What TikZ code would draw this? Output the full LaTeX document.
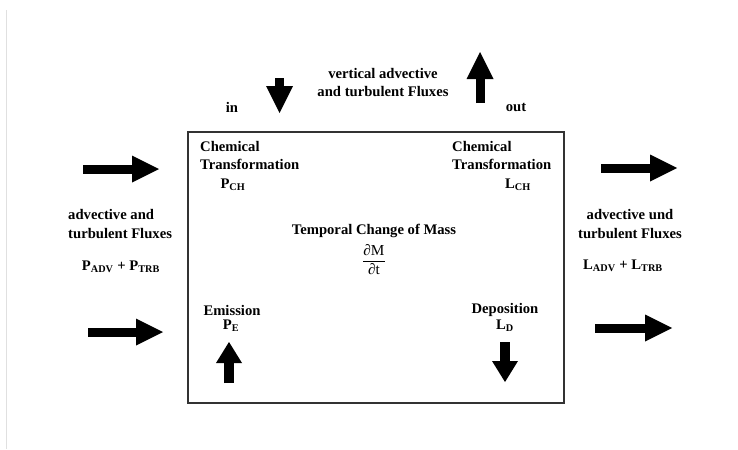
\documentclass[tikz,border=0pt]{standalone}
\usepackage{fontspec}
\setmainfont{Liberation Serif}
\usepackage{amsmath}
\usetikzlibrary{arrows.meta, positioning}

\begin{document}
\begin{tikzpicture}[x=0.03cm, y=-0.03cm, node distance=0.3cm,
    every node/.style={font=\fontsize{12.5}{16}\selectfont\bfseries, inner sep=0pt}]
    % Styles
    \tikzstyle{txt} = [align=left, anchor=west]
    \tikzstyle{fluxarrow} = [line width=0.27cm, -{Triangle[length=0.81cm, width=0.81cm, line width=0pt]}]
    \tikzstyle{srcarrow} = [line width=0.3cm, -{Triangle[length=0.63cm, width=0.78cm, line width=0pt]}]

    \useasboundingbox (0,0) rectangle (738,449);
    \draw [black!12, line width=0.6pt] (6,10) -- (6,449);

    % --- CONTROL VOLUME ---
    \node [draw=black!80, line width=1.2pt, minimum width=11.28cm, minimum height=8.13cm] (box) at (376,267.5) {};

    % --- TOP: VERTICAL FLUXES ---
    \node [align=center] (vert) at (383,82.5) {vertical advective\\and turbulent Fluxes};
    \node (in) at (232,107) {in};
    \node (out) at (516,107) {out};
    \coordinate (inTop) at (279.5,78);
    \coordinate (inTip) at (279.5,113);
    \coordinate (outBot) at (480,103);
    \coordinate (outTip) at (480,52);

    % --- INSIDE THE BOX ---
    \node [txt] (chemL) at (200,155.5) {Chemical\\Transformation};
    \node (pch) at (233,185) {P\textsubscript{CH}};
    \node [txt] (chemR) at (452,155.5) {Chemical\\Transformation};
    \node (lch) at (518,185) {L\textsubscript{CH}};
    \node (mass) at (374,231) {Temporal Change of Mass};
    \node [below=0.18cm of mass] (dmdt) {\(\dfrac{\text{\mdseries\fontsize{13}{16}\selectfont ∂M}}{\text{\mdseries\fontsize{13}{16}\selectfont ∂t}}\)};
    \node (emis) at (232,310) {Emission};
    \node (pe) at (231,326) {P\textsubscript{E}};
    \node (depo) at (505,310) {Deposition};
    \node (ld) at (505,326) {L\textsubscript{D}};
    \coordinate (emBot) at (229,383);
    \coordinate (emTip) at (229,342);
    \coordinate (deTop) at (505,342);
    \coordinate (deTip) at (505,382);

    % --- SIDES: HORIZONTAL FLUXES ---
    \node [txt] (advL) at (68,224) {advective and\\turbulent Fluxes};
    \node (padv) at (121,267) {P\textsubscript{ADV} + P\textsubscript{TRB}};
    \node [align=center] (advR) at (630,224) {advective und\\turbulent Fluxes};
    \node (ladv) at (623,266) {L\textsubscript{ADV} + L\textsubscript{TRB}};
    \coordinate (lTopA) at (83,169);
    \coordinate (lTopB) at (159,169);
    \coordinate (lBotA) at (88,332);
    \coordinate (lBotB) at (163,332);
    \coordinate (rTopA) at (601,168);
    \coordinate (rTopB) at (677,168);
    \coordinate (rBotA) at (595,328);
    \coordinate (rBotB) at (672,328);

    % --- ARROWS ---
    \draw [fluxarrow] (inTop) -- (inTip);
    \draw [fluxarrow] (outBot) -- (outTip);
    \draw [fluxarrow] (lTopA) -- (lTopB);
    \draw [fluxarrow] (lBotA) -- (lBotB);
    \draw [fluxarrow] (rTopA) -- (rTopB);
    \draw [fluxarrow] (rBotA) -- (rBotB);
    \draw [srcarrow] (emBot) -- (emTip);
    \draw [srcarrow] (deTop) -- (deTip);

\end{tikzpicture}
\end{document}
